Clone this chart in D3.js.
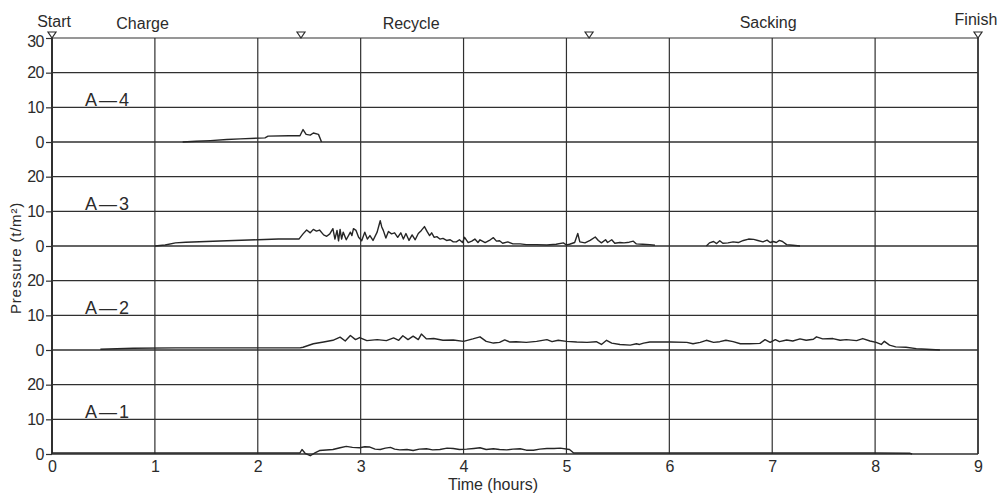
<!DOCTYPE html>
<html>
<head>
<meta charset="utf-8">
<script src="https://cdn.jsdelivr.net/npm/d3@7"></script>
<style>
  html, body { margin: 0; padding: 0; background: #ffffff; }
  svg { display: block; }
  text { font-family: "Liberation Sans", Arial, sans-serif; fill: #2b2b2b; }
</style>
</head>
<body>
<svg id="chart" width="1002" height="495"></svg>
<script>
// ---------------- DATA ----------------
const panelNames = ["A—4", "A—3", "A—2", "A—1"];
const xTicks = [0, 1, 2, 3, 4, 5, 6, 7, 8, 9];
const yTicksTop = [0, 10, 20, 30];
const yTicksOther = [0, 10, 20];
const phaseLabels = ["Start", "Charge", "Recycle", "Sacking", "Finish"];
const phaseLabelTimes = [0.02, 0.88, 3.49, 6.96, 8.98];
const markerTimes = [0, 2.42, 5.22, 9];

// pressure traces: [time (h), pressure (t/m2)]
const seriesA4 = [[1.27,0],[1.40,0.2],[1.54,0.4],[1.70,0.7],[1.83,0.9],[2.07,1.2],[2.10,1.7],[2.30,1.8],[2.41,1.8],[2.44,3.6],[2.47,2.2],[2.51,2.0],[2.54,2.6],[2.59,2.2],[2.62,0]];

const seriesA3 = [[1.0,0],[1.1,0.3],[1.2,0.9],[1.3,1.1],[1.5,1.3],[1.7,1.5],[2.0,1.8],[2.2,2.0],[2.4,2.0],
 [2.44,3.5],[2.475,4.6],[2.51,3.8],[2.54,4.8],[2.57,4.3],[2.60,4.6],[2.64,3.2],[2.67,2.8],[2.70,3.5],[2.73,5.0],[2.75,2.0],[2.77,4.5],[2.785,1.5],[2.80,4.8],[2.815,2.0],[2.83,4.0],[2.86,1.8],[2.90,4.0],[2.915,3.0],[2.93,5.0],[2.955,4.5],[2.98,2.5],[3.01,1.5],[3.04,4.0],[3.065,2.0],[3.09,3.0],[3.12,1.6],[3.16,4.0],[3.19,7.3],[3.205,5.5],[3.22,4.5],[3.245,2.3],[3.27,4.2],[3.30,3.5],[3.33,3.8],[3.36,2.5],[3.39,3.8],[3.415,2.0],[3.44,3.6],[3.47,1.6],[3.50,3.2],[3.53,1.8],[3.56,3.6],[3.59,4.5],[3.62,5.6],[3.645,4.2],[3.67,3.0],[3.69,3.8],[3.715,2.5],[3.74,2.7],[3.77,2.0],[3.80,2.2],[3.835,1.6],[3.87,1.8],[3.90,1.2],[3.93,1.2],[3.96,1.8],[3.99,1.0],[4.01,2.5],[4.045,1.0],[4.08,1.4],[4.11,2.0],[4.14,1.0],[4.16,1.8],[4.21,1.0],[4.26,1.8],[4.29,2.4],[4.32,1.4],[4.35,1.5],[4.38,0.8],[4.43,1.2],[4.48,0.6],[4.55,0.6],[4.61,0.4],[4.71,0.4],[4.81,0.3],[4.90,0.5],[4.97,0.9],[5.00,0.3],[5.03,0.5],[5.08,1.0],[5.11,3.6],[5.13,1.2],[5.18,0.9],[5.23,1.6],[5.28,2.6],[5.31,1.6],[5.34,0.9],[5.38,1.8],[5.40,1.0],[5.44,1.8],[5.47,0.8],[5.52,1.0],[5.56,0.9],[5.61,1.1],[5.65,1.4],[5.68,0.6],[5.74,0.5],[5.81,0.4],[5.86,0.2],
 [5.87,null],
 [6.36,0],[6.39,0.9],[6.43,1.3],[6.46,0.7],[6.49,1.5],[6.52,0.8],[6.57,0.9],[6.62,1.2],[6.67,1.0],[6.72,1.6],[6.77,2.0],[6.82,1.9],[6.86,1.6],[6.91,1.2],[6.95,1.7],[6.98,1.0],[7.01,1.3],[7.04,1.0],[7.07,1.6],[7.10,1.3],[7.14,0.4],[7.20,0.2],[7.27,0]];

const seriesA2 = [[0.47,0.2],[0.79,0.5],[1.2,0.6],[1.8,0.6],[2.41,0.6],[2.44,0.8],[2.54,1.8],[2.64,2.3],[2.73,2.8],[2.80,3.7],[2.85,2.6],[2.90,4.2],[2.95,3.0],[2.99,3.6],[3.06,2.7],[3.16,3.0],[3.25,2.7],[3.32,3.5],[3.37,2.8],[3.41,4.1],[3.46,3.0],[3.51,4.0],[3.56,3.0],[3.59,4.6],[3.64,3.2],[3.71,3.3],[3.80,2.8],[3.90,2.9],[4.00,2.5],[4.09,3.2],[4.16,3.8],[4.22,2.5],[4.29,2.0],[4.35,2.2],[4.40,2.9],[4.45,2.3],[4.51,2.4],[4.61,2.2],[4.71,2.5],[4.81,3.0],[4.86,2.4],[4.92,2.8],[5.00,2.5],[5.10,2.3],[5.20,2.2],[5.29,2.4],[5.34,1.6],[5.39,2.8],[5.44,2.0],[5.52,1.6],[5.62,1.4],[5.68,1.8],[5.71,1.6],[5.75,2.0],[5.81,2.3],[6.01,2.3],[6.17,2.2],[6.23,1.8],[6.30,2.2],[6.36,2.8],[6.43,2.2],[6.49,2.4],[6.55,2.8],[6.62,2.4],[6.69,1.8],[6.78,1.8],[6.88,1.9],[6.93,3.0],[6.98,2.2],[7.03,3.0],[7.07,2.4],[7.14,2.9],[7.20,2.6],[7.27,3.2],[7.33,2.8],[7.40,3.1],[7.43,3.8],[7.49,3.2],[7.59,3.3],[7.66,2.8],[7.72,3.0],[7.82,2.7],[7.88,3.3],[7.95,2.6],[8.01,2.2],[8.06,1.6],[8.09,2.5],[8.14,1.4],[8.20,0.9],[8.30,0.8],[8.40,0.4],[8.50,0.2],[8.63,0]];

const seriesA1 = [[0,0.3],[1.0,0.3],[2.0,0.3],[2.41,0.3],[2.43,1.3],[2.46,0.2],[2.51,-0.5],[2.56,0.4],[2.60,1.0],[2.73,1.3],[2.80,1.8],[2.86,2.2],[2.92,1.9],[2.99,1.8],[3.04,2.1],[3.09,2.0],[3.14,1.4],[3.19,1.3],[3.24,1.7],[3.29,1.9],[3.33,1.4],[3.38,1.2],[3.45,1.3],[3.51,1.0],[3.57,1.4],[3.64,1.5],[3.70,1.2],[3.77,1.3],[3.84,1.7],[3.90,1.6],[3.96,1.3],[4.03,1.4],[4.10,1.6],[4.16,1.8],[4.22,1.3],[4.29,1.5],[4.35,1.3],[4.42,1.2],[4.48,1.4],[4.55,1.5],[4.61,1.1],[4.68,1.1],[4.74,1.4],[4.81,1.6],[4.88,1.6],[4.94,1.7],[5.03,1.3],[5.07,0.3],[6.0,0.3],[7.0,0.3],[8.0,0.3],[8.34,0.2],[8.36,0]];

const allSeries = [seriesA4, seriesA3, seriesA2, seriesA1];

// ---------------- LAYOUT ----------------
const svg = d3.select("#chart");
const plotLeft = 52, plotRight = 978, plotTop = 38, panelH = 104;
const x = d3.scaleLinear().domain([0, 9]).range([plotLeft, plotRight]);
const yScales = panelNames.map((_, i) =>
  d3.scaleLinear().domain([0, 30]).range([plotTop + panelH * (i + 1), plotTop + panelH * i]));

const gridColor = "#303030";
const traceColor = "#262626";

// vertical grid lines
svg.append("g").selectAll("line").data(xTicks).join("line")
  .attr("x1", d => x(d)).attr("x2", d => x(d))
  .attr("y1", plotTop).attr("y2", plotTop + panelH * 4)
  .attr("stroke", gridColor)
  .attr("stroke-width", d => (d === 0 ? 2 : 1.2));

// panels: horizontal grid + y axis
panelNames.forEach((name, i) => {
  const y = yScales[i];
  const ticks = i === 0 ? yTicksTop : yTicksOther;
  const g = svg.append("g");
  g.selectAll("line.h").data(ticks).join("line")
    .attr("class", "h")
    .attr("x1", plotLeft).attr("x2", plotRight)
    .attr("y1", d => y(d)).attr("y2", d => y(d))
    .attr("stroke", gridColor)
    .attr("stroke-width", d => (d === 0 ? 1.6 : 1.2));

  const ax = svg.append("g").attr("transform", `translate(${plotLeft},0)`)
    .call(d3.axisLeft(y).tickValues(ticks).tickSize(6).tickPadding(2).tickFormat(d3.format("d")));
  ax.select(".domain").remove();
  ax.selectAll(".tick line").attr("stroke", gridColor).attr("stroke-width", 1.2);
  ax.selectAll(".tick text").attr("font-size", 16).attr("fill", "#2b2b2b")
    .attr("font-family", "'Liberation Sans', Arial, sans-serif").attr("letter-spacing", -0.5)
    .attr("dy", d => (d === 30 ? "0.5em" : "0.32em"));

  svg.append("text")
    .attr("x", 85).attr("y", y(10.5))
    .attr("font-size", 18)
    .attr("letter-spacing", 2)
    .text(name);

  // trace
  const line = d3.line()
    .defined(d => d[1] !== null)
    .x(d => x(d[0])).y(d => y(d[1]));
  svg.append("path")
    .datum(allSeries[i])
    .attr("fill", "none")
    .attr("stroke", traceColor)
    .attr("stroke-width", 1.4)
    .attr("stroke-linejoin", "round")
    .attr("d", line);
});

// bottom axis labels
const xa = svg.append("g").attr("transform", `translate(0,${plotTop + panelH * 4})`)
  .call(d3.axisBottom(x).tickValues(xTicks).tickSize(0).tickPadding(7).tickFormat(d3.format("d")));
xa.select(".domain").remove();
xa.selectAll(".tick text").attr("font-size", 16).attr("fill", "#2b2b2b")
  .attr("font-family", "'Liberation Sans', Arial, sans-serif");

// right border thicker
svg.append("line").attr("x1", plotRight).attr("x2", plotRight).attr("y1", plotTop).attr("y2", plotTop + panelH * 4)
  .attr("stroke", gridColor).attr("stroke-width", 1.5);

// axis titles
svg.append("text")
  .attr("x", 493).attr("y", 490)
  .attr("text-anchor", "middle").attr("font-size", 16)
  .text("Time (hours)");

svg.append("text")
  .attr("transform", "translate(21,258) rotate(-90)")
  .attr("text-anchor", "middle").attr("font-size", 15)
  .attr("letter-spacing", 0.8)
  .text("Pressure (t/m²)");

// phase labels
const labelBaselines = [27, 29, 29, 28, 25];
svg.append("g").selectAll("text").data(phaseLabels).join("text")
  .attr("x", (d, i) => x(phaseLabelTimes[i]))
  .attr("y", (d, i) => labelBaselines[i])
  .attr("text-anchor", "middle")
  .attr("font-size", 16)
  .text(d => d);

// phase markers (open downward triangles)
svg.append("g").selectAll("path").data(markerTimes).join("path")
  .attr("d", d => {
    const cx = x(d), ty = plotTop - 6;
    return `M${cx - 4},${ty} L${cx + 4},${ty} L${cx},${ty + 6} Z`;
  })
  .attr("fill", "#fff")
  .attr("stroke", "#2b2b2b")
  .attr("stroke-width", 1.2);
</script>
</body>
</html>
